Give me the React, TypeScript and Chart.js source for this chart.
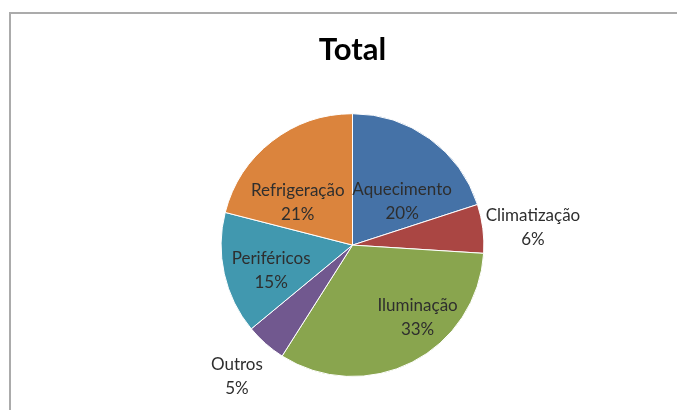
import React, { useEffect, useRef } from "react";
import { Chart, registerables } from "chart.js";

Chart.register(...registerables);

const categories = ["Aquecimento", "Climatização", "Iluminação", "Outros", "Periféricos", "Refrigeração"];
const values = [20, 6, 33, 5, 15, 21];
const sliceColors = ["#4572A7", "#AA4643", "#89A54E", "#71588F", "#4198AF", "#DB843D"];
// label placement: [angle shift in degrees (clockwise), distance as fraction of radius]
const labelPlacement: [number, number][] = [
  [13, 0.5],
  [1.5, 1.38],
  [-15, 0.74],
  [0, 1.33],
  [-5, 0.65],
  [-14, 0.53],
];

const FONT = "Lato, 'Open Sans', sans-serif";

const labelPlugin = {
  id: "sliceLabels",
  afterDatasetsDraw(chart: any) {
    const meta = chart.getDatasetMeta(0);
    const ds = chart.data.datasets[0].data as number[];
    const total = ds.reduce((a, b) => a + b, 0);
    const ctx = chart.ctx;
    ctx.save();
    ctx.font = `17px ${FONT}`;
    ctx.fillStyle = "#2e2e2e";
    ctx.textAlign = "center";
    ctx.textBaseline = "middle";
    meta.data.forEach((arc: any, i: number) => {
      const p = arc.getProps(["x", "y", "startAngle", "endAngle", "outerRadius"], true);
      const [shift, frac] = labelPlacement[i];
      const mid = (p.startAngle + p.endAngle) / 2 + (shift * Math.PI) / 180;
      const cx = p.x + Math.cos(mid) * p.outerRadius * frac;
      const cy = p.y + Math.sin(mid) * p.outerRadius * frac;
      const pct = Math.round((ds[i] / total) * 100) + "%";
      ctx.fillText(chart.data.labels[i], cx, cy - 12);
      ctx.fillText(pct, cx, cy + 12);
    });
    ctx.restore();
  },
};

export default function App() {
  const ref = useRef<HTMLCanvasElement>(null);
  useEffect(() => {
    const chart = new Chart(ref.current!, {
      type: "pie",
      data: {
        labels: categories,
        datasets: [
          {
            data: values,
            backgroundColor: sliceColors,
            borderColor: "#ffffff",
            borderWidth: 1,
          },
        ],
      },
      options: {
        responsive: false,
        animation: false,
        layout: { padding: { left: 28, right: 0, top: 0, bottom: 33 } },
        plugins: {
          legend: { display: false },
          tooltip: { enabled: false },
          title: {
            display: true,
            text: "Total",
            color: "#000000",
            font: { family: FONT, size: 31, weight: "bold" },
            padding: { top: 31, bottom: 45 },
          },
        },
      },
      plugins: [labelPlugin],
    });
    return () => chart.destroy();
  }, []);
  return (
    <div style={{ position: "fixed", left: 0, top: 0, width: 677, height: 410, background: "#fff" }}>
      <div
        style={{
          position: "absolute",
          left: 9,
          top: 12,
          right: -4,
          bottom: -4,
          borderLeft: "2px solid #ababab",
          borderTop: "2px solid #ababab",
        }}
      />
      <canvas ref={ref} width={677} height={410} style={{ position: "absolute", left: 0, top: 0 }} />
    </div>
  );
}
